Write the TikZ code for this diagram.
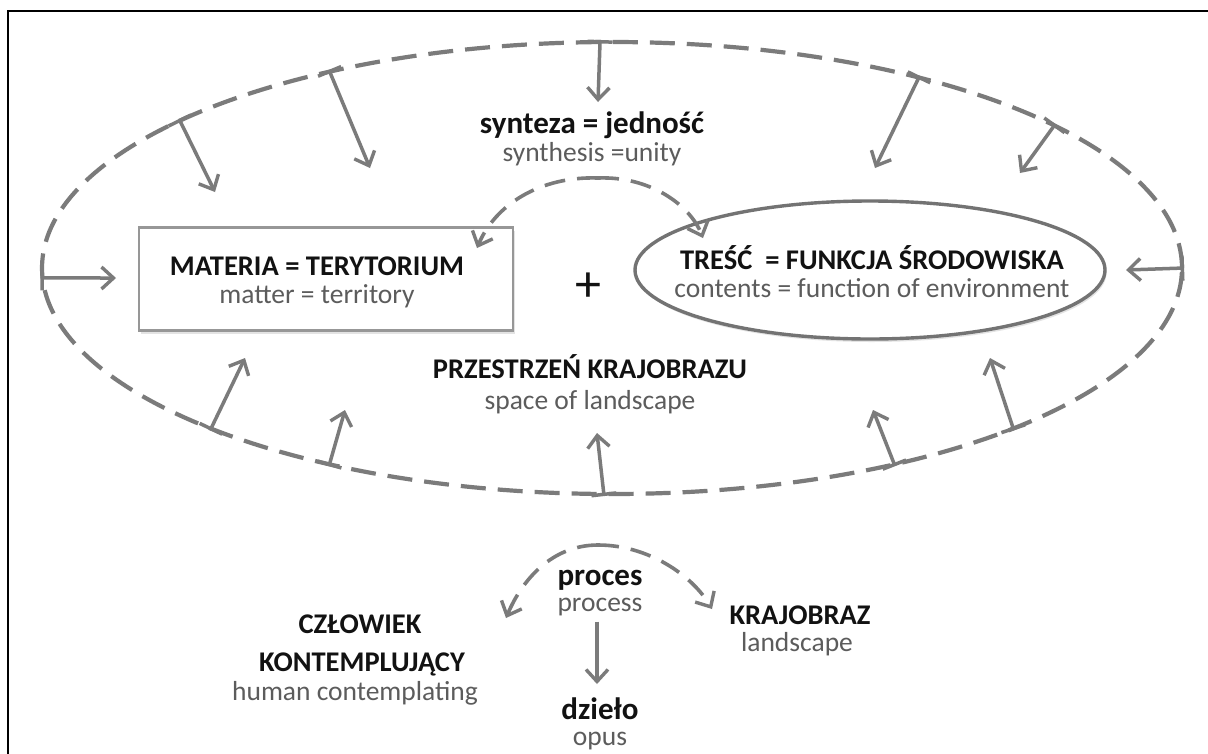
\documentclass[tikz,border=0pt]{standalone}
\usepackage{fontspec}
\setmainfont{Carlito}
\usetikzlibrary{arrows.meta,shapes.geometric,shadows}

\definecolor{linegray}{HTML}{7B7B7B}
\definecolor{boxgray}{HTML}{979797}
\definecolor{ringgray}{HTML}{737373}
\definecolor{subgray}{HTML}{5C5C5C}
\definecolor{titleblack}{HTML}{121212}

\begin{document}
\begin{tikzpicture}[x=1pt,y=-1pt,
  title/.style={font=\fontsize{28.5}{31}\selectfont\bfseries, text=titleblack,
                inner sep=0pt, text height=20pt, text depth=6pt},
  lowtitle/.style={title, font=\fontsize{31}{34}\selectfont\bfseries},
  sub/.style={font=\fontsize{27.5}{30}\selectfont, text=subgray,
              inner sep=0pt, text height=19pt, text depth=6pt},
  softshadow/.style={drop shadow={opacity=0.22, shadow xshift=1.5pt, shadow yshift=-3pt}},
  dashline/.style={draw=linegray, line width=4.2pt, dash pattern=on 25pt off 12pt},
  dasharc/.style={draw=linegray, line width=3.6pt, dash pattern=on 21pt off 12pt,
                  -{Straight Barb[length=12pt,width=22pt,line width=3.4pt]}},
  push/.style={draw=linegray, line width=3.5pt,
               {Bar[width=25pt,line width=3.5pt]}-{Straight Barb[length=12pt,width=22pt,line width=3.4pt]}},
  flow/.style={draw=linegray, line width=3.5pt,
               -{Straight Barb[length=12pt,width=22pt,line width=3.4pt]}}
]
\useasboundingbox (0,0) rectangle (1208,753);
\fill[white] (0,0) rectangle (1208,753);

% outer frame (open to the right and bottom)
\draw[line width=2.8pt] (8,760) -- (8,11) -- (1215,11);

% space of landscape: the dashed outer ring
\node[ellipse, dashline, minimum width=1140pt, minimum height=452pt, inner sep=0pt]
  (space) at (612,268) {};

% inner forms
\node[draw=boxgray, fill=white, softshadow, line width=2.2pt,
      minimum width=374pt, minimum height=103pt, inner sep=0pt]
  (mat) at (326,279) {};
\node[ellipse, draw=ringgray, fill=white, softshadow, line width=3.4pt,
      minimum width=470pt, minimum height=138pt, inner sep=0pt]
  (tresc) at (870,270) {};

% arrow targets inside the ring
\coordinate (t1) at (215,192);
\coordinate (t2) at (370,168);
\coordinate (t3) at (598,102);
\coordinate (t4) at (875,168);
\coordinate (t5) at (1020,173);
\coordinate (t6) at (116,278);
\coordinate (t7) at (1126,270);
\coordinate (t8) at (245,358);
\coordinate (t9) at (345,410);
\coordinate (t10) at (597,433);
\coordinate (t11) at (873,410);
\coordinate (t12) at (990,358);

% pressure of the ring on its content
\draw[push] (space.161.8) -- (t1);
\draw[push] (space.145.7) -- (t2);
\draw[push] (space.93.5) -- (t3);
\draw[push] (space.32.2) -- (t4);
\draw[push] (space.18.6) -- (t5);
\draw[push] (space.181) -- (t6);
\draw[push] (space.0) -- (t7);
\draw[push] (space.202) -- (t8);
\draw[push] (space.215.1) -- (t9);
\draw[push] (space.268.3) -- (t10);
\draw[push] (space.325) -- (t11);
\draw[push] (space.338.4) -- (t12);

% synthesis arc between matter and contents
\coordinate (matin) at (477,248);
\coordinate (tresin) at (703,238);
\coordinate (arctop) at (598,178);
\draw[dasharc] (arctop) .. controls (540,176) and (495,205) .. (matin);
\draw[dasharc] (arctop) .. controls (650,176) and (690,205) .. (tresin);

% labels
\node[lowtitle] (syn) at (592,126) {synteza = jedność};
\node[sub] (synen) at (592,155) {synthesis =unity};

\node[title] (matpl) at (317,268) {MATERIA = TERYTORIUM};
\node[sub] (maten) at (317,297) {matter = territory};

\node[font=\fontsize{52}{56}\selectfont, text=titleblack, inner sep=0pt] (plus) at (588,287) {+};

\node[title] (trepl) at (872,262) {TREŚĆ\ \ = FUNKCJA ŚRODOWISKA};
\node[sub] (treen) at (872,291) {contents = function of environment};

\node[title] (prz) at (590,371) {PRZESTRZEŃ KRAJOBRAZU};
\node[sub] (przen) at (590,403) {space of landscape};

% process below the ring
\node[lowtitle] (proc) at (600,578) {proces};
\node[sub] (procen) at (600,605) {process};

\node[title] (czl1) at (360,626) {CZŁOWIEK};
\node[title] (czl2) at (362,664) {KONTEMPLUJĄCY};
\node[sub] (czlen) at (355,694) {human contemplating};

\node[title] (kraj) at (800,617) {KRAJOBRAZ};
\node[sub] (krajen) at (797,645) {landscape};

\node[lowtitle] (dz) at (600,712) {dzieło};
\node[sub] (dzen) at (600,739) {opus};

\coordinate (proctop) at (598,545);
\coordinate (czlin) at (506,618);
\coordinate (krajin) at (712,609);
\coordinate (dzin) at (597,684);
\draw[dasharc] (proctop) .. controls (552,545) and (522,580) .. (czlin);
\draw[dasharc] (proctop) .. controls (648,545) and (692,575) .. (krajin);
\draw[flow] (procen.south -| dzin) ++(0,4) -- (dzin);
\end{tikzpicture}
\end{document}
